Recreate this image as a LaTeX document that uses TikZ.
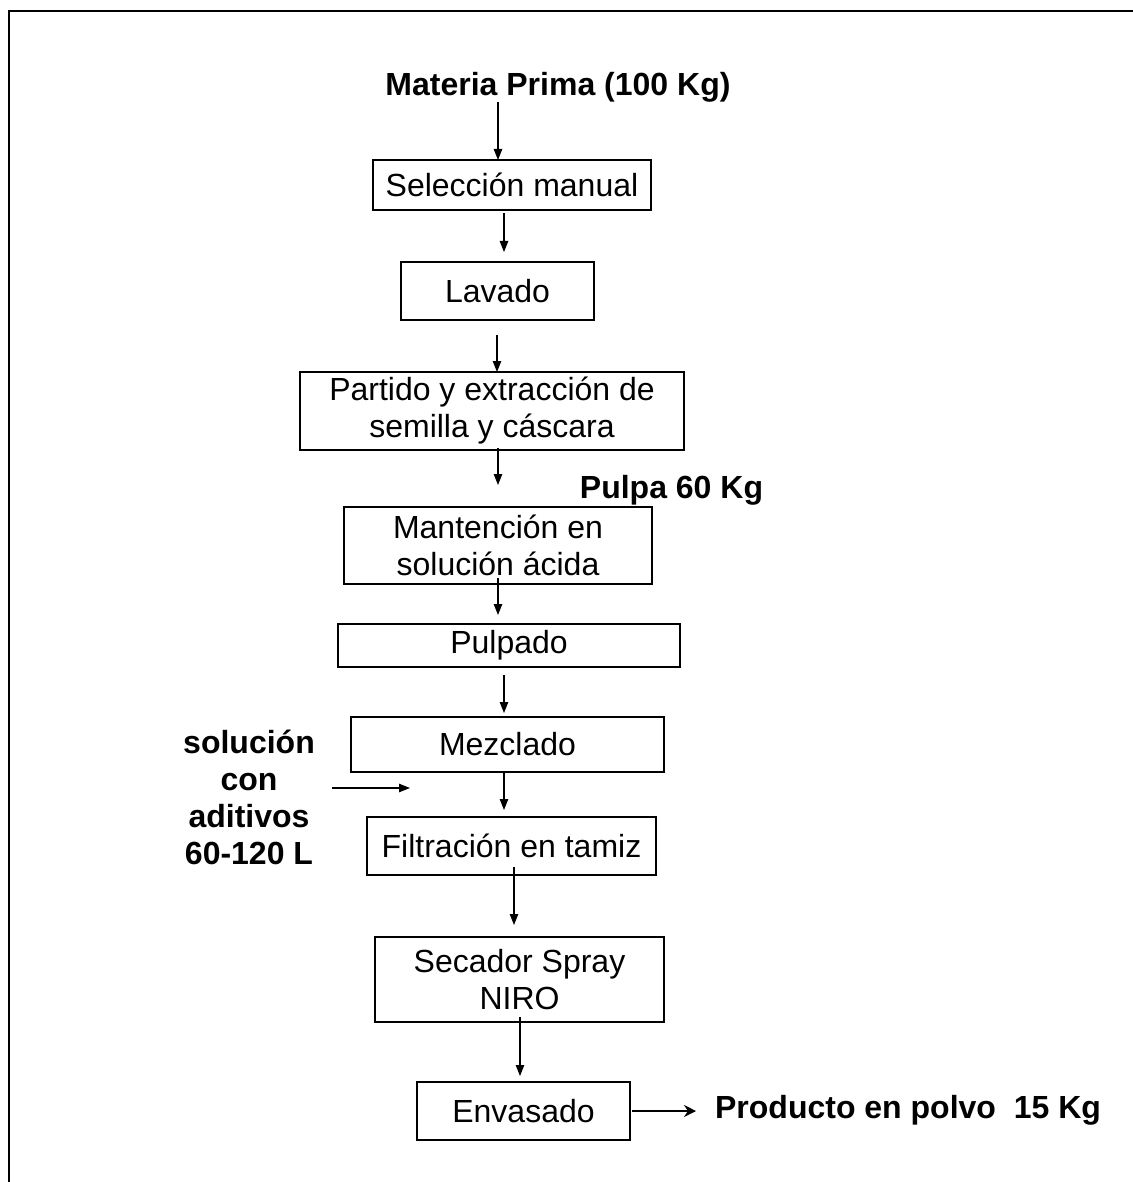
\documentclass[tikz,border=0pt]{standalone}
\usepackage{fontspec}
\setmainfont{Liberation Sans}
\usetikzlibrary{arrows.meta}
\begin{document}
\begin{tikzpicture}[x=0.5pt,y=-0.5pt,
  box/.style={draw,line width=0.9pt,inner sep=0pt,align=center,font=\fontsize{16}{18.5}\selectfont},
  lbl/.style={inner sep=0pt,align=center,font=\fontsize{16}{18.5}\selectfont\bfseries},
  arr/.style={line width=0.6pt,-{Triangle[length=5.5pt,width=4.2pt]}},
  arrs/.style={line width=0.6pt,-{Stealth[length=6pt,width=6pt]}}]
\useasboundingbox (0,0) rectangle (1132,1182);
\fill[white] (0,0) rectangle (1132,1182);
% frame
\draw[line width=1pt] (9,1200) |- (1150,11);
% labels
\node[lbl] (mp) at (558,87) {Materia Prima (100 Kg)};
\node[lbl] (pulpa) at (671.5,490) {Pulpa 60 Kg};
\node[lbl] (sol) at (249,797) {solución\\con\\aditivos\\60-120 L};
\node[lbl] (prod) at (908,1110) {Producto en polvo\ \ 15 Kg};
% boxes
\node[box,minimum width=139pt,minimum height=25pt] (sel) at (512,185) {Selección manual};
\node[box,minimum width=96.5pt,minimum height=29pt] (lav) at (497.5,291) {Lavado};
\node[box,minimum width=192pt,minimum height=39pt] (par) at (492,411) {Partido y extracción de\\semilla y cáscara};
\node[box,minimum width=154pt,minimum height=38.5pt] (man) at (498,545.5) {Mantención en\\solución ácida};
\node[box,minimum width=171pt,minimum height=21.5pt] (pulp) at (509,645.5) {Pulpado};
\node[box,minimum width=156.5pt,minimum height=27.5pt] (mez) at (507.5,744.5) {Mezclado};
\node[box,minimum width=144.5pt,minimum height=29pt] (fil) at (511.5,846) {Filtración en tamiz};
\node[box,minimum width=144.5pt,minimum height=42.5pt] (sec) at (519.5,979.5) {Secador Spray\\NIRO};
\node[box,minimum width=106.5pt,minimum height=29pt] (env) at (523.5,1111) {Envasado};
% connector ends
\coordinate (a1s) at (498,102); \coordinate (a1e) at (498,160);
\coordinate (a2s) at (504,213); \coordinate (a2e) at (504,252);
\coordinate (a3s) at (497,335); \coordinate (a3e) at (497,372);
\coordinate (a4s) at (498,448); \coordinate (a4e) at (498,485);
\coordinate (a5s) at (498,578); \coordinate (a5e) at (498,615);
\coordinate (a6s) at (504,675); \coordinate (a6e) at (504,713);
\coordinate (a7s) at (504,773); \coordinate (a7e) at (504,810);
\coordinate (a8s) at (514,867); \coordinate (a8e) at (514,925);
\coordinate (a9s) at (520,1017); \coordinate (a9e) at (520,1076);
\coordinate (sds) at (332,788); \coordinate (sde) at (410,788);
\coordinate (ots) at (632,1111); \coordinate (ote) at (696,1111);
% connectors
\draw[arr] (a1s) -- (a1e);
\draw[arr] (a2s) -- (a2e);
\draw[arr] (a3s) -- (a3e);
\draw[arr] (a4s) -- (a4e);
\draw[arr] (a5s) -- (a5e);
\draw[arr] (a6s) -- (a6e);
\draw[arr] (a7s) -- (a7e);
\draw[arr] (a8s) -- (a8e);
\draw[arr] (a9s) -- (a9e);
\draw[arr] (sds) -- (sde);
\draw[arrs] (ots) -- (ote);
\end{tikzpicture}
\end{document}
